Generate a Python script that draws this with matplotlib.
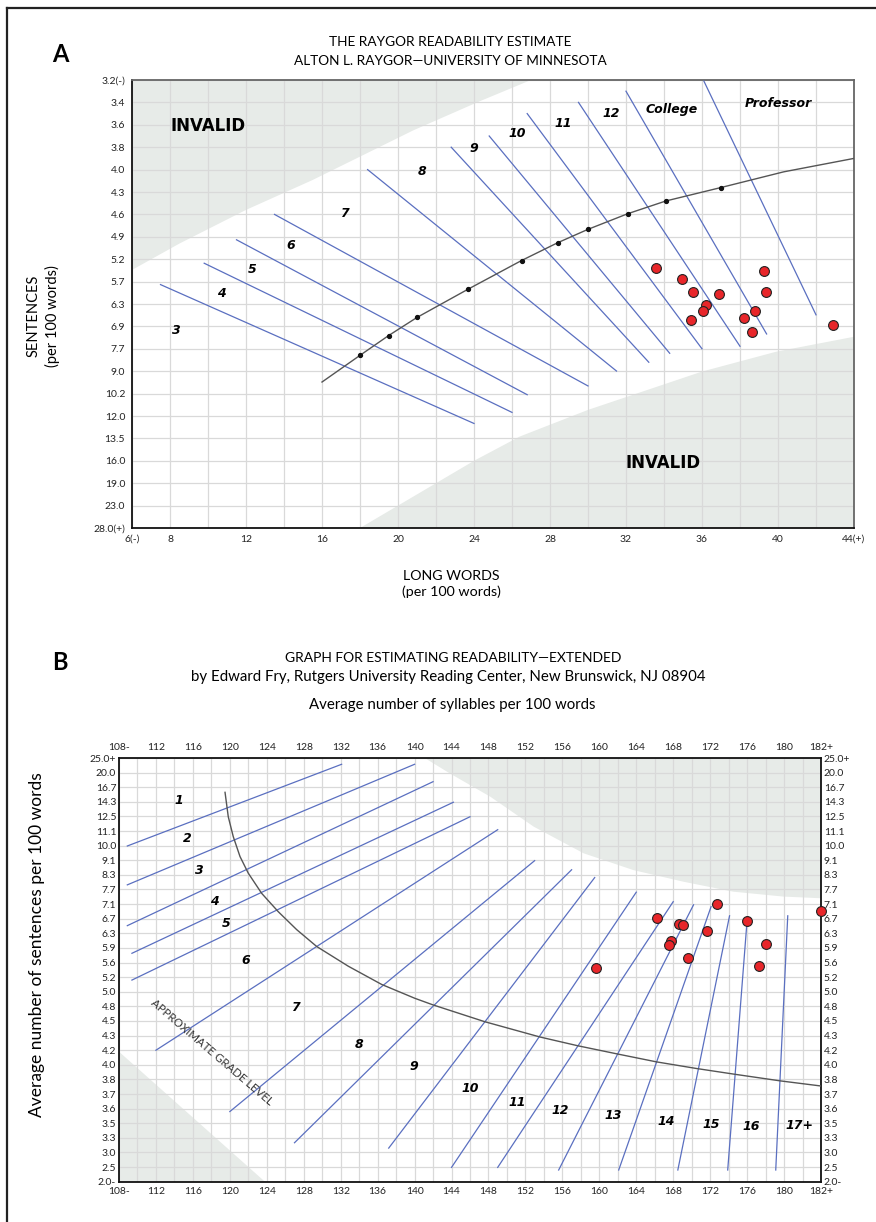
import numpy as np
import matplotlib.pyplot as plt
from matplotlib.lines import Line2D

plt.rcParams['font.family'] = ['Lato', 'DejaVu Sans']

W, H = 876, 1222

# ---------------- panel A: Raygor readability estimate ----------------
a_rows = [3.2, 3.4, 3.6, 3.8, 4.0, 4.3, 4.6, 4.9, 5.2, 5.7, 6.3, 6.9, 7.7,
          9.0, 10.2, 12.0, 13.5, 16.0, 19.0, 23.0, 28.0]
a_row_labels = ['3.2(-)'] + ['%.1f' % v for v in a_rows[1:-1]] + ['28.0(+)']
a_xticks = [6, 8, 12, 16, 20, 24, 28, 32, 36, 40, 44]
a_xlabels = ['6(-)', '8', '12', '16', '20', '24', '28', '32', '36', '40', '44(+)']

# grade boundary lines (long words, sentences)
a_line_x0 = [7.5, 9.8, 11.5, 13.5, 18.4, 22.8, 24.8, 26.8, 29.5, 32.0, 36.1]
a_line_y0 = [5.78, 5.29, 4.94, 4.6, 4.0, 3.8, 3.70, 3.50, 3.4, 3.30, 3.21]
a_line_x1 = [24.0, 26.0, 26.8, 30.0, 31.5, 33.2, 34.3, 36.0, 38.0, 39.4, 42.0]
a_line_y1 = [12.5, 11.71, 10.29, 9.79, 8.99, 8.48, 7.96, 7.7, 7.61, 7.17, 6.59]

a_grades = ['3', '4', '5', '6', '7', '8', '9', '10', '11', '12', 'College', 'Professor']
a_grade_x = [8.35, 10.7, 12.35, 14.35, 17.2, 21.25, 24.0, 26.3, 28.7, 31.2, 34.4, 40.0]
a_grade_y = [7.03, 6.03, 5.44, 5.01, 4.59, 4.02, 3.81, 3.68, 3.59, 3.50, 3.46, 3.41]

# grade-level curve; the inner points carry small dots
a_curve_x = [16.0, 18.0, 19.5, 21.0, 23.7, 26.5, 28.4, 30.0, 32.1, 34.1, 37.0, 40.3, 44.0]
a_curve_y = [9.58, 8.08, 7.23, 6.66, 5.90, 5.23, 4.98, 4.80, 4.59, 4.42, 4.24, 4.03, 3.90]
a_curve_dots = [1, 2, 3, 4, 5, 6, 7, 8, 9, 10]

# sample passages
a_pts_x = [33.56, 34.95, 35.51, 36.88, 36.19, 36.07, 35.41, 38.23, 38.79, 38.65, 39.25, 39.35, 42.88]
a_pts_y = [5.40, 5.65, 5.97, 6.02, 6.33, 6.50, 6.72, 6.68, 6.49, 7.10, 5.46, 5.97, 6.86]

# invalid regions
a_inv_top_x = [6, 6, 8.5, 12.0, 15.5, 20.8, 24.3, 27.0]
a_inv_top_y = [3.2, 5.44, 4.99, 4.54, 4.14, 3.65, 3.39, 3.2]
a_inv_bot_x = [18.0, 24.0, 26.4, 30.0, 36.0, 39.9, 44, 44]
a_inv_bot_y = [28.0, 16.0, 13.38, 11.51, 9.02, 7.87, 7.27, 28.0]

# ---------------- panel B: Fry graph extended ----------------
b_rows = [25.0, 20.0, 16.7, 14.3, 12.5, 11.1, 10.0, 9.1, 8.3, 7.7, 7.1, 6.7, 6.3,
          5.9, 5.6, 5.2, 5.0, 4.8, 4.5, 4.3, 4.2, 4.0, 3.8, 3.7, 3.6, 3.5, 3.3,
          3.0, 2.5, 2.0]
b_row_labels = ['25.0+'] + ['%.1f' % v for v in b_rows[1:-1]] + ['2.0-']
b_xticks = list(range(108, 181, 4)) + [184]
b_xlabels = ['108-'] + [str(v) for v in range(112, 181, 4)] + ['182+']

b_line_x0 = [108.9, 108.9, 108.9, 109.4, 109.4, 112.0, 120.0, 127.0, 137.2, 144.0,
             149.0, 155.6, 162.1, 168.5, 173.9, 179.1]
b_line_y0 = [9.98, 7.89, 6.51, 5.79, 5.16, 4.2, 3.58, 3.2, 3.09, 2.49,
             2.49, 2.4, 2.4, 2.4, 2.4, 2.4]
b_line_x1 = [132.1, 140.0, 142.0, 144.2, 146.0, 149.0, 153.0, 157.0, 159.5, 164.0,
             168.0, 170.2, 172.1, 174.1, 176.0, 180.4]
b_line_y1 = [22.85, 22.85, 17.95, 14.25, 12.47, 11.23, 9.08, 8.58, 8.19, 7.59,
             7.2, 7.08, 7.03, 6.78, 6.66, 6.78]

b_grades = ['1', '2', '3', '4', '5', '6', '7', '8', '9', '10', '11', '12', '13',
            '14', '15', '16', '17+']
b_grade_x = [114.5, 115.4, 116.7, 118.3, 119.6, 121.7, 127.1, 134.0, 139.9, 146.0,
             151.1, 155.8, 161.5, 167.2, 172.1, 176.4, 181.7]
b_grade_y = [14.44, 10.55, 8.56, 7.21, 6.58, 5.65, 4.77, 4.24, 3.98, 3.74,
             3.64, 3.59, 3.55, 3.51, 3.48, 3.46, 3.47]

b_curve_x = [119.48, 119.83, 120.37, 121.1, 122.0, 123.45, 125.25, 127.24, 129.4,
             132.82, 136.44, 140.04, 142.0, 147.6, 153.6, 157.7, 161.9, 166.2,
             170.5, 174.7, 179.6, 184.0]
b_curve_y = [15.86, 12.47, 10.68, 9.33, 8.39, 7.54, 6.89, 6.40, 5.94,
             5.50, 5.10, 4.91, 4.82, 4.49, 4.29, 4.23, 4.15, 4.04,
             3.95, 3.87, 3.79, 3.755]

b_pts_x = [166.2, 168.6, 169.1, 172.7, 171.7, 176.0, 167.8, 167.5, 178.0, 169.6,
           177.3, 159.6, 184.0]
b_pts_y = [6.73, 6.55, 6.53, 7.12, 6.36, 6.64, 6.08, 5.99, 6.02, 5.69,
           5.50, 5.45, 6.92]

b_inv_top_x = [141.1, 143.8, 148.2, 152.9, 158.3, 163.7, 169.1, 174.5, 179.9, 184, 184]
b_inv_top_y = [25, 19.84, 15.14, 11.52, 9.53, 8.56, 8.02, 7.61, 7.41, 7.34, 25]
b_inv_low_x = [108, 123.8, 108]
b_inv_low_y = [4.18, 2.0, 2.0]

BLUE = '#5a6fc0'
GRAY_FILL = '#e7ebe8'
GRID = '#d9d9d9'
RED = '#e8262a'
LABEL_FONT = dict(family='DejaVu Sans', fontweight='bold', fontstyle='oblique', fontsize=9)


def row_scale(rows):
    vals = np.array(sorted(rows), dtype=float)
    pos = np.arange(len(vals), dtype=float)
    return (lambda v: np.interp(v, vals, pos)), (lambda p: np.interp(p, pos, vals))


def fx(px):
    return px / W


def fy(py):
    return 1 - py / H


fig = plt.figure(figsize=(W / 100, H / 100), dpi=100)

# ---------------- draw A ----------------
axA = fig.add_axes([fx(132), fy(528), (854 - 132) / W, (528 - 80) / H])
axA.set_yscale('function', functions=row_scale(a_rows))
axA.set_xlim(6, 44)
axA.set_ylim(28.0, 3.2)
axA.set_yticks(a_rows, a_row_labels)
axA.set_xticks(a_xticks, a_xlabels)
axA.set_xticks(np.arange(6, 45, 2), minor=True)
axA.grid(True, which='both', color=GRID, lw=0.9, zorder=1)
axA.set_axisbelow(True)
axA.tick_params(which='both', length=0, labelsize=7.5, colors='#222222')
axA.tick_params(axis='y', pad=5)
axA.tick_params(axis='x', pad=5)
axA.fill(a_inv_top_x, a_inv_top_y, color=GRAY_FILL, lw=0, zorder=0.5)
axA.fill(a_inv_bot_x, a_inv_bot_y, color=GRAY_FILL, lw=0, zorder=0.5)
for x0, y0, x1, y1 in zip(a_line_x0, a_line_y0, a_line_x1, a_line_y1):
    axA.plot([x0, x1], [y0, y1], color=BLUE, lw=0.9, zorder=3)
axA.plot(a_curve_x, a_curve_y, color='#555555', lw=1.0, marker='o', ms=2.8,
         mfc='#111111', mec='#111111', markevery=a_curve_dots, zorder=4)
for g, x, y in zip(a_grades, a_grade_x, a_grade_y):
    axA.text(x, y, g, ha='center', va='center', zorder=5, **LABEL_FONT)
axA.text(9.98, 3.61, 'INVALID', ha='center', va='center', fontsize=12,
         fontweight='bold', family='DejaVu Sans')
axA.text(33.96, 16.24, 'INVALID', ha='center', va='center', fontsize=12,
         fontweight='bold', family='DejaVu Sans')
axA.scatter(a_pts_x, a_pts_y, s=50, color=RED, edgecolors='#222222', linewidths=0.8,
            zorder=6, clip_on=False)
for s in ['left', 'bottom']:
    axA.spines[s].set_color('#111111')
    axA.spines[s].set_linewidth(1.3)
for s in ['top', 'right']:
    axA.spines[s].set_color('#666666')
    axA.spines[s].set_linewidth(1.3)

fig.text(fx(450), fy(42), 'THE RAYGOR READABILITY ESTIMATE', ha='center', va='center', fontsize=9.8)
fig.text(fx(450), fy(61), 'ALTON L. RAYGOR\u2014UNIVERSITY OF MINNESOTA', ha='center', va='center', fontsize=9.8)
fig.text(fx(60), fy(54), 'A', ha='center', va='center', fontsize=17, fontweight='bold')
fig.text(fx(43), fy(316), 'SENTENCES\n(per 100 words)', ha='center', va='center',
         rotation=90, fontsize=10.5, linespacing=1.35)
fig.text(fx(451), fy(584), 'LONG WORDS\n(per 100 words)', ha='center', va='center',
         fontsize=10.3, linespacing=1.35)

# ---------------- draw B ----------------
axB = fig.add_axes([fx(119), fy(1181.7), (821 - 119) / W, (1181.7 - 758) / H])
axB.set_yscale('function', functions=row_scale(b_rows))
axB.set_xlim(108, 184)
axB.set_ylim(2.0, 25.0)
axB.set_yticks(b_rows, b_row_labels)
axB.set_xticks(b_xticks, b_xlabels)
axB.set_xticks(np.arange(108, 185, 2), minor=True)
axB.grid(True, which='both', color=GRID, lw=0.9, zorder=1)
axB.set_axisbelow(True)
axB.tick_params(which='both', length=0, labelsize=7.5, colors='#222222',
                top=True, labeltop=True, right=True, labelright=True)
axB.tick_params(axis='y', pad=2)
axB.tick_params(axis='x', pad=4)
axB.fill(b_inv_top_x, b_inv_top_y, color=GRAY_FILL, lw=0, zorder=0.5)
axB.fill(b_inv_low_x, b_inv_low_y, color=GRAY_FILL, lw=0, zorder=0.5)
for x0, y0, x1, y1 in zip(b_line_x0, b_line_y0, b_line_x1, b_line_y1):
    axB.plot([x0, x1], [y0, y1], color=BLUE, lw=0.9, zorder=3)
axB.plot(b_curve_x, b_curve_y, color='#555555', lw=1.0, zorder=4)
for g, x, y in zip(b_grades, b_grade_x, b_grade_y):
    axB.text(x, y, g, ha='center', va='center', zorder=5, **LABEL_FONT)
axB.text(118.0, 4.17, 'APPROXIMATE GRADE LEVEL', ha='center', va='center',
         rotation=-40.5, rotation_mode='anchor', fontsize=8.3, color='#333333')
axB.scatter(b_pts_x, b_pts_y, s=50, color=RED, edgecolors='#222222', linewidths=0.8,
            zorder=6, clip_on=False)
for s in axB.spines.values():
    s.set_color('#111111')
    s.set_linewidth(1.3)

fig.text(fx(60), fy(662), 'B', ha='center', va='center', fontsize=17, fontweight='bold')
fig.text(fx(453), fy(658), 'GRAPH FOR ESTIMATING READABILITY\u2014EXTENDED', ha='center', va='center', fontsize=10)
fig.text(fx(448), fy(677), 'by Edward Fry, Rutgers University Reading Center, New Brunswick, NJ 08904',
         ha='center', va='center', fontsize=10.8)
fig.text(fx(452), fy(705), 'Average number of syllables per 100 words', ha='center', va='center', fontsize=10.8)
fig.text(fx(37), fy(945), 'Average number of sentences per 100 words', ha='center', va='center',
         rotation=90, fontsize=12.5)

# page frame
fig.add_artist(Line2D([fx(7), fx(7)], [0, fy(8)], color='#222222', lw=1.6))
fig.add_artist(Line2D([fx(7), 1], [fy(8), fy(8)], color='#222222', lw=1.6))

fig.savefig('out.png', dpi=100)
